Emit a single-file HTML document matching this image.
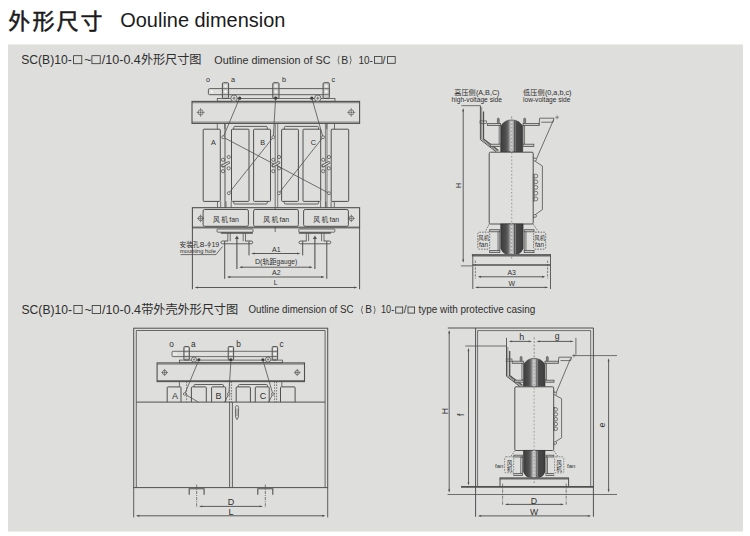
<!DOCTYPE html>
<html><head><meta charset="utf-8"><title>Outline dimension</title>
<style>
html,body{margin:0;padding:0;background:#fff;}
body{width:750px;height:536px;overflow:hidden;font-family:"Liberation Sans",sans-serif;}
svg{display:block;font-family:"Liberation Sans","Noto Sans CJK SC",sans-serif;}
svg text,svg use{fill:#2e2e2e;stroke:none;}
</style></head><body>
<svg width="750" height="536" viewBox="0 0 750 536">
<rect x="0" y="0" width="750" height="536" fill="#ffffff"/>
<rect x="8" y="44.5" width="735" height="487" fill="#dededc"/>
<g fill="none" stroke="#505050" stroke-width="0.9">
<text x="8.3" y="28.5" font-size="22" textLength="94.3" lengthAdjust="spacing" style="fill:#1a1a1a;stroke:#1a1a1a;stroke-width:0.5;font-family:'Liberation Sans','Noto Sans CJK SC',sans-serif">外形尺寸</text>
<text x="120.3" y="27.2" font-size="20" textLength="165" lengthAdjust="spacingAndGlyphs" style="fill:#1a1a1a">Oouline dimension</text>
<text x="21.2" y="64.2" font-size="12.2" textLength="50.6" lengthAdjust="spacingAndGlyphs">SC(B)10-</text>
<rect x="73.6" y="55.7" width="8.2" height="8" stroke-width="0.8" fill="none" stroke="#2e2e2e"/>
<text x="84.2" y="64.2" font-size="12.2">~</text>
<rect x="91.9" y="55.7" width="8.3" height="8" stroke-width="0.8" fill="none" stroke="#2e2e2e"/>
<text x="101.8" y="64.2" font-size="12.2" textLength="39" lengthAdjust="spacingAndGlyphs">/10-0.4</text>
<text x="140.9" y="64.1" font-size="12.2" textLength="60.6" lengthAdjust="spacing" style="font-family:'Liberation Sans','Noto Sans CJK SC',sans-serif">外形尺寸图</text>
<text x="214.3" y="63.7" font-size="10.7" textLength="116.2" lengthAdjust="spacingAndGlyphs">Outline dimension of SC</text>
<path d="M339.2 55.8 Q336.9 60.1 339.2 64.4" stroke-width="0.75" stroke="#4a4a4a"/>
<text x="341.2" y="63.7" font-size="10.5">B</text>
<path d="M350 55.8 Q352.3 60.1 350 64.4" stroke-width="0.75" stroke="#4a4a4a"/>
<text x="358.4" y="63.7" font-size="10.5" textLength="14.4" lengthAdjust="spacingAndGlyphs">10-</text>
<rect x="374.4" y="56.6" width="7.6" height="6.7" stroke-width="0.8" fill="none" stroke="#2e2e2e"/>
<text x="382.6" y="63.7" font-size="10.5">/</text>
<rect x="387.4" y="56.6" width="7.8" height="6.7" stroke-width="0.8" fill="none" stroke="#2e2e2e"/>
<text x="21.5" y="314" font-size="12.2" textLength="50.6" lengthAdjust="spacingAndGlyphs">SC(B)10-</text>
<rect x="73.9" y="305.5" width="8.2" height="8" stroke-width="0.8" fill="none" stroke="#2e2e2e"/>
<text x="84.5" y="314" font-size="12.2">~</text>
<rect x="92.2" y="305.5" width="8.3" height="8" stroke-width="0.8" fill="none" stroke="#2e2e2e"/>
<text x="102.1" y="314" font-size="12.2" textLength="39" lengthAdjust="spacingAndGlyphs">/10-0.4</text>
<text x="141.2" y="313.9" font-size="12.2" textLength="96.9" lengthAdjust="spacing" style="font-family:'Liberation Sans','Noto Sans CJK SC',sans-serif">带外壳外形尺寸图</text>
<text x="248.5" y="313.4" font-size="10" textLength="105" lengthAdjust="spacingAndGlyphs">Outline dimension of SC</text>
<path d="M362.6 305.9 Q360.3 309.95 362.6 314" stroke-width="0.75" stroke="#4a4a4a"/>
<text x="365.2" y="313.4" font-size="10">B</text>
<path d="M374 305.9 Q376.3 309.95 374 314" stroke-width="0.75" stroke="#4a4a4a"/>
<text x="381" y="313.4" font-size="10" textLength="13.2" lengthAdjust="spacingAndGlyphs">10-</text>
<rect x="395.7" y="307" width="7" height="6.1" stroke-width="0.8" fill="none" stroke="#2e2e2e"/>
<text x="403.7" y="313.4" font-size="10">/</text>
<rect x="408" y="307" width="6.6" height="6.1" stroke-width="0.8" fill="none" stroke="#2e2e2e"/>
<text x="418.4" y="313.4" font-size="10" textLength="116.9" lengthAdjust="spacingAndGlyphs">type with protective casing</text>
<text x="208.1" y="81.7" font-size="7.2" text-anchor="middle">o</text>
<text x="233" y="81.7" font-size="7.2" text-anchor="middle">a</text>
<text x="283.9" y="81.7" font-size="7.2" text-anchor="middle">b</text>
<text x="333.3" y="81.7" font-size="7.2" text-anchor="middle">c</text>
<rect x="208.4" y="88.6" width="120.8" height="6.1" rx="1.2"/>
<rect x="210.4" y="91" width="3" height="1.2" stroke-width="0" fill="#f4f4f4"/>
<rect x="211.3" y="90.1" width="1.2" height="3" stroke-width="0" fill="#f4f4f4"/>
<rect x="222.4" y="82.7" width="6.2" height="15.7" rx="1.1" stroke-width="1" fill="#cbcbc9"/>
<line x1="222.4" y1="88.6" x2="228.6" y2="88.6" stroke-width="0.7"/>
<line x1="222.4" y1="94.6" x2="228.6" y2="94.6" stroke-width="0.7"/>
<rect x="224" y="85.4" width="3" height="1.2" stroke-width="0" fill="#f6f6f6"/>
<rect x="224.9" y="84.5" width="1.2" height="3" stroke-width="0" fill="#f6f6f6"/>
<rect x="224" y="91" width="3" height="1.2" stroke-width="0" fill="#f6f6f6"/>
<rect x="224.9" y="90.1" width="1.2" height="3" stroke-width="0" fill="#f6f6f6"/>
<rect x="272.8" y="82.7" width="6.2" height="15.7" rx="1.1" stroke-width="1" fill="#cbcbc9"/>
<line x1="272.8" y1="88.6" x2="279" y2="88.6" stroke-width="0.7"/>
<line x1="272.8" y1="94.6" x2="279" y2="94.6" stroke-width="0.7"/>
<rect x="274.4" y="85.4" width="3" height="1.2" stroke-width="0" fill="#f6f6f6"/>
<rect x="275.3" y="84.5" width="1.2" height="3" stroke-width="0" fill="#f6f6f6"/>
<rect x="274.4" y="91" width="3" height="1.2" stroke-width="0" fill="#f6f6f6"/>
<rect x="275.3" y="90.1" width="1.2" height="3" stroke-width="0" fill="#f6f6f6"/>
<rect x="323.1" y="82.7" width="6.2" height="15.7" rx="1.1" stroke-width="1" fill="#cbcbc9"/>
<line x1="323.1" y1="88.6" x2="329.3" y2="88.6" stroke-width="0.7"/>
<line x1="323.1" y1="94.6" x2="329.3" y2="94.6" stroke-width="0.7"/>
<rect x="324.7" y="85.4" width="3" height="1.2" stroke-width="0" fill="#f6f6f6"/>
<rect x="325.6" y="84.5" width="1.2" height="3" stroke-width="0" fill="#f6f6f6"/>
<rect x="324.7" y="91" width="3" height="1.2" stroke-width="0" fill="#f6f6f6"/>
<rect x="325.6" y="90.1" width="1.2" height="3" stroke-width="0" fill="#f6f6f6"/>
<rect x="217.3" y="98.5" width="117.7" height="2.8" stroke-width="0.8"/>
<rect x="192" y="101.4" width="167.6" height="22" stroke-width="1.1"/>
<line x1="192" y1="102.7" x2="359.6" y2="102.7" stroke-width="0.7"/>
<line x1="192" y1="122.1" x2="359.6" y2="122.1" stroke-width="0.7"/>
<circle cx="200.6" cy="112.4" r="2.6" stroke-width="0.7" fill="none"/>
<line x1="196.6" y1="112.4" x2="204.6" y2="112.4" stroke-width="0.6"/>
<line x1="200.6" y1="108.1" x2="200.6" y2="116.7" stroke-width="0.6"/>
<circle cx="351.2" cy="112.4" r="2.6" stroke-width="0.7" fill="none"/>
<line x1="347.2" y1="112.4" x2="355.2" y2="112.4" stroke-width="0.6"/>
<line x1="351.2" y1="108.1" x2="351.2" y2="116.7" stroke-width="0.6"/>
<circle cx="234" cy="98.2" r="3.2" stroke-width="0.8" fill="#dededc"/>
<line x1="232.4" y1="98.2" x2="235.6" y2="98.2" stroke-width="0.7"/>
<line x1="234" y1="96.6" x2="234" y2="99.8" stroke-width="0.7"/>
<circle cx="239.7" cy="98.2" r="1.6" stroke-width="0" fill="#3a3a3a"/>
<circle cx="317.8" cy="98.2" r="3.2" stroke-width="0.8" fill="#dededc"/>
<line x1="316.2" y1="98.2" x2="319.4" y2="98.2" stroke-width="0.7"/>
<line x1="317.8" y1="96.6" x2="317.8" y2="99.8" stroke-width="0.7"/>
<circle cx="311.8" cy="98.2" r="1.6" stroke-width="0" fill="#3a3a3a"/>
<circle cx="275.7" cy="98.2" r="1.6" stroke-width="0" fill="#3a3a3a"/>
<line x1="217.3" y1="123.4" x2="217.3" y2="129.2" stroke-width="0.8"/>
<line x1="224.9" y1="123.4" x2="224.9" y2="129.2" stroke-width="0.8"/>
<line x1="326.8" y1="123.4" x2="326.8" y2="129.2" stroke-width="0.8"/>
<line x1="334.5" y1="123.4" x2="334.5" y2="129.2" stroke-width="0.8"/>
<line x1="217.5" y1="201.4" x2="217.5" y2="207.7" stroke-width="0.8"/>
<line x1="220.7" y1="201.4" x2="220.7" y2="207.7" stroke-width="0.8"/>
<line x1="226" y1="201.4" x2="226" y2="207.7" stroke-width="0.8"/>
<line x1="231.2" y1="201.4" x2="231.2" y2="207.7" stroke-width="0.8"/>
<line x1="334.3" y1="201.4" x2="334.3" y2="207.7" stroke-width="0.8"/>
<line x1="331.1" y1="201.4" x2="331.1" y2="207.7" stroke-width="0.8"/>
<line x1="325.8" y1="201.4" x2="325.8" y2="207.7" stroke-width="0.8"/>
<line x1="320.6" y1="201.4" x2="320.6" y2="207.7" stroke-width="0.8"/>
<rect x="203.2" y="129.2" width="17.1" height="72.2" rx="0.8" stroke-width="1"/>
<rect x="231.5" y="129.2" width="17.5" height="72.2" rx="0.8" stroke-width="1"/>
<rect x="253.6" y="129.2" width="16.9" height="72.2" rx="0.8" stroke-width="1"/>
<rect x="281.6" y="129.2" width="16.8" height="72.2" rx="0.8" stroke-width="1"/>
<rect x="303" y="129.2" width="17.7" height="72.2" rx="0.8" stroke-width="1"/>
<rect x="331.2" y="129.2" width="17.5" height="72.2" rx="0.8" stroke-width="1"/>
<path d="M233.7 129.2 V127.6 Q233.7 126.4 234.9 126.4 H266.1 Q267.3 126.4 267.3 127.6 V129.2"/>
<path d="M233.7 201.4 V202.8 Q233.7 204 234.9 204 H266.1 Q267.3 204 267.3 202.8 V201.4"/>
<path d="M284.3 129.2 V127.6 Q284.3 126.4 285.5 126.4 H317.3 Q318.5 126.4 318.5 127.6 V129.2"/>
<path d="M284.3 201.4 V202.8 Q284.3 204 285.5 204 H317.3 Q318.5 204 318.5 202.8 V201.4"/>
<line x1="225" y1="123.4" x2="225" y2="207.7" stroke-width="0.95"/>
<line x1="275.2" y1="123.4" x2="275.2" y2="232" stroke-width="0.8"/>
<line x1="277.7" y1="123.4" x2="277.7" y2="207.7" stroke-width="0.7"/>
<line x1="325.4" y1="123.4" x2="325.4" y2="207.7" stroke-width="0.7"/>
<line x1="327" y1="123.4" x2="327" y2="207.7" stroke-width="0.7"/>
<text x="213.3" y="145.2" font-size="7.2" text-anchor="middle">A</text>
<text x="262.6" y="145.2" font-size="7.2" text-anchor="middle">B</text>
<text x="313.3" y="145" font-size="7.2" text-anchor="middle">C</text>
<line x1="239.7" y1="98" x2="223.2" y2="137.2" stroke-width="0.8"/>
<line x1="275.6" y1="98" x2="273.3" y2="137.2" stroke-width="0.8"/>
<line x1="311.8" y1="98" x2="323" y2="137.2" stroke-width="0.8"/>
<line x1="223.2" y1="137.2" x2="329" y2="193.2" stroke-width="0.8"/>
<line x1="273.3" y1="137.2" x2="228.8" y2="193.2" stroke-width="0.8"/>
<line x1="323" y1="137.2" x2="278.9" y2="193.2" stroke-width="0.8"/>
<circle cx="223.2" cy="137.2" r="1.5" stroke-width="0.7" fill="#dededc"/>
<circle cx="273.3" cy="137.2" r="1.5" stroke-width="0.7" fill="#dededc"/>
<circle cx="323" cy="137.2" r="1.5" stroke-width="0.7" fill="#dededc"/>
<circle cx="228.8" cy="193.2" r="1.5" stroke-width="0.7" fill="#dededc"/>
<circle cx="278.9" cy="193.2" r="1.5" stroke-width="0.7" fill="#dededc"/>
<circle cx="329" cy="193.2" r="1.5" stroke-width="0.7" fill="#dededc"/>
<circle cx="223" cy="159.8" r="1.6" stroke-width="0.75"/>
<circle cx="223" cy="165.6" r="1.6" stroke-width="0.75"/>
<circle cx="223" cy="171.2" r="1.6" stroke-width="0.75"/>
<circle cx="228.7" cy="157" r="1.6" stroke-width="0.75"/>
<circle cx="228.7" cy="168.3" r="1.6" stroke-width="0.75"/>
<line x1="223" y1="165.6" x2="228.7" y2="162.5" stroke-width="2.6" stroke-linecap="round"/>
<line x1="223" y1="165.6" x2="228.7" y2="162.5" stroke-width="1.2" stroke="#dededc" stroke-linecap="round"/>
<circle cx="273.3" cy="159.8" r="1.6" stroke-width="0.75"/>
<circle cx="273.3" cy="165.6" r="1.6" stroke-width="0.75"/>
<circle cx="273.3" cy="171.2" r="1.6" stroke-width="0.75"/>
<circle cx="279" cy="157" r="1.6" stroke-width="0.75"/>
<circle cx="279" cy="168.3" r="1.6" stroke-width="0.75"/>
<line x1="273.3" y1="165.6" x2="279" y2="162.5" stroke-width="2.6" stroke-linecap="round"/>
<line x1="273.3" y1="165.6" x2="279" y2="162.5" stroke-width="1.2" stroke="#dededc" stroke-linecap="round"/>
<circle cx="323.2" cy="159.8" r="1.6" stroke-width="0.75"/>
<circle cx="323.2" cy="165.6" r="1.6" stroke-width="0.75"/>
<circle cx="323.2" cy="171.2" r="1.6" stroke-width="0.75"/>
<circle cx="328.9" cy="157" r="1.6" stroke-width="0.75"/>
<circle cx="328.9" cy="168.3" r="1.6" stroke-width="0.75"/>
<line x1="323.2" y1="165.6" x2="328.9" y2="162.5" stroke-width="2.6" stroke-linecap="round"/>
<line x1="323.2" y1="165.6" x2="328.9" y2="162.5" stroke-width="1.2" stroke="#dededc" stroke-linecap="round"/>
<rect x="192.4" y="207.7" width="167.2" height="20.1" stroke-width="1.1"/>
<line x1="192.4" y1="226.9" x2="359.6" y2="226.9" stroke-width="0.6"/>
<rect x="203.1" y="209.5" width="45.3" height="16.8" rx="1.6" stroke-width="1" fill="#dededc"/>
<text x="213.05" y="221.7" font-size="6.7" textLength="14.9" lengthAdjust="spacing" style="font-family:'Liberation Sans','Noto Sans CJK SC',sans-serif">风机</text>
<text x="229.35" y="221.6" font-size="6.8" textLength="9.6" lengthAdjust="spacingAndGlyphs">fan</text>
<rect x="253.6" y="209.5" width="44.8" height="16.8" rx="1.6" stroke-width="1" fill="#dededc"/>
<text x="263.3" y="221.7" font-size="6.7" textLength="14.9" lengthAdjust="spacing" style="font-family:'Liberation Sans','Noto Sans CJK SC',sans-serif">风机</text>
<text x="279.6" y="221.6" font-size="6.8" textLength="9.6" lengthAdjust="spacingAndGlyphs">fan</text>
<rect x="303.6" y="209.5" width="44.8" height="16.8" rx="1.6" stroke-width="1" fill="#dededc"/>
<text x="313.3" y="221.7" font-size="6.7" textLength="14.9" lengthAdjust="spacing" style="font-family:'Liberation Sans','Noto Sans CJK SC',sans-serif">风机</text>
<text x="329.6" y="221.6" font-size="6.8" textLength="9.6" lengthAdjust="spacingAndGlyphs">fan</text>
<circle cx="200.6" cy="218.4" r="2.3" stroke-width="0.7" fill="none"/>
<line x1="197.1" y1="218.4" x2="204.1" y2="218.4" stroke-width="0.6"/>
<line x1="200.6" y1="214.6" x2="200.6" y2="222.2" stroke-width="0.6"/>
<circle cx="351.3" cy="218.4" r="2.3" stroke-width="0.7" fill="none"/>
<line x1="347.8" y1="218.4" x2="354.8" y2="218.4" stroke-width="0.6"/>
<line x1="351.3" y1="214.6" x2="351.3" y2="222.2" stroke-width="0.6"/>
<rect x="217" y="229" width="36" height="3.2" rx="0.8" stroke-width="0.8"/>
<line x1="221.4" y1="232.9" x2="252.4" y2="232.9" stroke-width="1.5" stroke-linecap="round"/>
<line x1="227.8" y1="233.2" x2="227.8" y2="241.2" stroke-width="0.8"/>
<line x1="230.2" y1="233.2" x2="230.2" y2="241.2" stroke-width="0.8"/>
<line x1="243.2" y1="233.2" x2="243.2" y2="241.2" stroke-width="0.8"/>
<line x1="245.5" y1="233.2" x2="245.5" y2="241.2" stroke-width="0.8"/>
<path d="M228 241 H222.4 A1.4 1.4 0 0 0 222.4 243.8 H251.3 A1.4 1.4 0 0 0 251.3 241 H245.3"/>
<rect x="298.8" y="229" width="36" height="3.2" rx="0.8" stroke-width="0.8"/>
<line x1="299.4" y1="232.9" x2="330.4" y2="232.9" stroke-width="1.5" stroke-linecap="round"/>
<line x1="324" y1="233.2" x2="324" y2="241.2" stroke-width="0.8"/>
<line x1="321.6" y1="233.2" x2="321.6" y2="241.2" stroke-width="0.8"/>
<line x1="308.6" y1="233.2" x2="308.6" y2="241.2" stroke-width="0.8"/>
<line x1="306.3" y1="233.2" x2="306.3" y2="241.2" stroke-width="0.8"/>
<path d="M306.5 241 H300.5 A1.4 1.4 0 0 0 300.5 243.8 H329.4 A1.4 1.4 0 0 0 329.4 241 H323.8"/>
<line x1="192.4" y1="227.8" x2="192.4" y2="289.2" stroke-width="1"/>
<line x1="359.6" y1="227.8" x2="359.6" y2="289.2" stroke-width="1"/>
<line x1="224.7" y1="241.2" x2="224.7" y2="278.8" stroke-width="1"/>
<line x1="326.8" y1="241.2" x2="326.8" y2="278.8" stroke-width="1"/>
<line x1="249" y1="241.2" x2="249" y2="255.4" stroke-width="1"/>
<line x1="302.7" y1="241.2" x2="302.7" y2="255.4" stroke-width="1"/>
<line x1="236.9" y1="238.6" x2="236.9" y2="268.9" stroke-width="1.1"/>
<line x1="314.9" y1="238.6" x2="314.9" y2="268.9" stroke-width="1.1"/>
<path d="M236.9 235.6 L234.9 239 L238.9 239 Z" fill="#505050" stroke="none"/>
<path d="M314.9 235.6 L312.9 239 L316.9 239 Z" fill="#505050" stroke="none"/>
<line x1="252.7" y1="253.5" x2="299" y2="253.5" stroke-width="1" stroke="#5a5a5a"/>
<path d="M251.2 253.5 L254.6 252.55 L254.6 254.45 Z" fill="#505050" stroke="none"/>
<path d="M300.5 253.5 L297.1 252.55 L297.1 254.45 Z" fill="#505050" stroke="none"/>
<line x1="240.6" y1="267.2" x2="311.2" y2="267.2" stroke-width="1" stroke="#5a5a5a"/>
<path d="M239.1 267.2 L242.5 266.25 L242.5 268.15 Z" fill="#505050" stroke="none"/>
<path d="M312.7 267.2 L309.3 266.25 L309.3 268.15 Z" fill="#505050" stroke="none"/>
<line x1="228.4" y1="277" x2="323.1" y2="277" stroke-width="1" stroke="#5a5a5a"/>
<path d="M226.9 277 L230.3 276.05 L230.3 277.95 Z" fill="#505050" stroke="none"/>
<path d="M324.6 277 L321.2 276.05 L321.2 277.95 Z" fill="#505050" stroke="none"/>
<line x1="196.1" y1="287.5" x2="355.9" y2="287.5" stroke-width="1" stroke="#5a5a5a"/>
<path d="M194.6 287.5 L198 286.55 L198 288.45 Z" fill="#505050" stroke="none"/>
<path d="M357.4 287.5 L354 286.55 L354 288.45 Z" fill="#505050" stroke="none"/>
<text x="276.3" y="252.4" font-size="7" text-anchor="middle">A1</text>
<text x="254.9" y="264" font-size="7.2">D(</text>
<text x="262.4" y="263.9" font-size="7" textLength="14" lengthAdjust="spacing" style="font-family:'Liberation Sans','Noto Sans CJK SC',sans-serif">轨距</text>
<text x="276.6" y="264" font-size="7.2" textLength="20.6" lengthAdjust="spacingAndGlyphs">gauge)</text>
<text x="276.3" y="274.8" font-size="7" text-anchor="middle">A2</text>
<text x="275.8" y="285.4" font-size="7" text-anchor="middle">L</text>
<text x="179.5" y="246.6" font-size="6.6" textLength="19.9" lengthAdjust="spacing" style="font-family:'Liberation Sans','Noto Sans CJK SC',sans-serif">安装孔</text>
<text x="199.8" y="246.6" font-size="7" textLength="7.4" lengthAdjust="spacingAndGlyphs">8-</text>
<circle cx="209.2" cy="244.3" r="1.45" stroke-width="0.7"/>
<line x1="209.2" y1="241.4" x2="209.2" y2="247.6" stroke-width="0.7"/>
<text x="211.4" y="246.6" font-size="7" textLength="7.9" lengthAdjust="spacingAndGlyphs">19</text>
<text x="180" y="253" font-size="5.7" textLength="35.8" lengthAdjust="spacingAndGlyphs">mounting hole</text>
<path d="M180.6 254.6 L216 254.6 L222.6 246.4" stroke-width="0.8"/>
<defs><linearGradient id="cg" x1="0" x2="1" y1="0" y2="0"><stop offset="0" stop-color="#3c3c3c"/><stop offset="0.1" stop-color="#444"/><stop offset="0.24" stop-color="#505050"/><stop offset="0.34" stop-color="#6a6a6a"/><stop offset="0.41" stop-color="#a4a4a4"/><stop offset="0.47" stop-color="#cbcbcb"/><stop offset="0.53" stop-color="#c2c2c2"/><stop offset="0.59" stop-color="#9a9a9a"/><stop offset="0.62" stop-color="#4c4c4c"/><stop offset="0.655" stop-color="#858585"/><stop offset="0.7" stop-color="#484848"/><stop offset="0.9" stop-color="#424242"/><stop offset="1" stop-color="#3a3a3a"/></linearGradient></defs>
<text x="454.2" y="95.2" font-size="7.1" textLength="21.5" lengthAdjust="spacing" style="font-family:'Liberation Sans','Noto Sans CJK SC',sans-serif">高压侧</text>
<text x="475.9" y="95" font-size="7.2" textLength="23.6" lengthAdjust="spacingAndGlyphs">(A,B,C)</text>
<text x="451.5" y="101.6" font-size="6.7" textLength="50.4" lengthAdjust="spacingAndGlyphs">high-voltage side</text>
<text x="522.9" y="95.2" font-size="7.1" textLength="21.7" lengthAdjust="spacing" style="font-family:'Liberation Sans','Noto Sans CJK SC',sans-serif">低压侧</text>
<text x="544.9" y="95" font-size="7.2" textLength="26.6" lengthAdjust="spacingAndGlyphs">(0,a,b,c)</text>
<text x="523" y="101.6" font-size="6.7" textLength="47.4" lengthAdjust="spacingAndGlyphs">low-voltage side</text>
<line x1="461.4" y1="105.7" x2="480.4" y2="105.7" stroke-width="0.8"/>
<line x1="463.2" y1="109.5" x2="463.2" y2="261.3"/>
<path d="M463.2 108 L462.25 111.4 L464.15 111.4 Z" fill="#505050" stroke="none"/>
<path d="M463.2 262.8 L462.25 259.4 L464.15 259.4 Z" fill="#505050" stroke="none"/>
<line x1="461" y1="265.9" x2="472.4" y2="265.9" stroke-width="0.8"/>
<text x="461.2" y="185.4" font-size="7" text-anchor="middle" transform="rotate(-90 461.2 185.4)">H</text>
<path d="M480.4 105.7 L480.4 139.6 L496.2 151.8" stroke-width="1"/>
<path d="M481.7 107 L481.7 139.2 L497.2 151.2" stroke-width="0.6"/>
<path d="M483.5 111.4 L483.5 139 L498.4 150.6" stroke-width="1.3"/>
<rect x="480" y="120.9" width="6.4" height="2.5" stroke-width="0.7"/>
<path d="M500.7 151.9 V126.4 A12.6 12.6 0 0 1 522.7 126.4 V151.9 Z" stroke-width="0.6" fill="url(#cg)" stroke="#333"/>
<rect x="487.6" y="123.5" width="13" height="2.1" stroke-width="0.8" fill="#c8c8c8"/>
<rect x="499.1" y="125.6" width="1.6" height="18.6" stroke-width="0.7" fill="#c8c8c8"/>
<rect x="490.2" y="144.2" width="10.5" height="2.2" stroke-width="0.8" fill="#c8c8c8"/>
<rect x="497.4" y="118.2" width="1.8" height="5.3" rx="0.7" stroke-width="0.7" fill="#8a8a8a"/>
<rect x="523" y="123.5" width="16.2" height="2.1" stroke-width="0.8" fill="#c8c8c8"/>
<rect x="523" y="125.6" width="1.7" height="18.6" stroke-width="0.7" fill="#c8c8c8"/>
<rect x="523" y="144.2" width="10.8" height="2.2" stroke-width="0.8" fill="#c8c8c8"/>
<rect x="523.8" y="118.2" width="1.8" height="5.3" rx="0.7" stroke-width="0.7" fill="#8a8a8a"/>
<path d="M539.2 124.6 L539.6 118.2 L554 118.2 L553 122.2 L541.2 122.2" stroke-width="0.8"/>
<line x1="555.2" y1="117.3" x2="559" y2="117.3" stroke-width="0.6"/>
<line x1="557.1" y1="115.4" x2="557.1" y2="119.2" stroke-width="0.6"/>
<line x1="553.7" y1="119.6" x2="536.4" y2="159" stroke-width="0.8"/>
<rect x="489.2" y="152.2" width="44" height="71.8" rx="1.2" stroke-width="1" fill="#dfdfdd"/>
<path d="M533.2 156.6 L535.6 161.6 L542.4 166 L542.4 209.6 L535.6 214.4 L533.2 218" stroke-width="0.8"/>
<circle cx="535" cy="159.6" r="1.5" stroke-width="0.7" fill="#dededc"/>
<circle cx="535" cy="215.9" r="1.5" stroke-width="0.7" fill="#dededc"/>
<rect x="533.2" y="174.2" width="1.3" height="27" stroke-width="0.6"/>
<circle cx="535.9" cy="176" r="1.9" stroke-width="0.7" fill="#dededc"/>
<circle cx="535.9" cy="181.8" r="1.9" stroke-width="0.7" fill="#dededc"/>
<circle cx="535.9" cy="187.4" r="1.9" stroke-width="0.7" fill="#dededc"/>
<circle cx="535.9" cy="193.2" r="1.9" stroke-width="0.7" fill="#dededc"/>
<circle cx="535.9" cy="199" r="1.9" stroke-width="0.7" fill="#dededc"/>
<path d="M500.7 223.9 V248.6 Q502.6 253.4 507.4 254.9 H516.4 Q521.2 253.4 523.1 248.6 V223.9 Z" stroke-width="0.6" fill="url(#cg)" stroke="#333"/>
<rect x="489.7" y="229.7" width="10.1" height="2.1" stroke-width="0.8" fill="#c8c8c8"/>
<rect x="498" y="231.8" width="1.8" height="18.7" stroke-width="0.7" fill="#c8c8c8"/>
<rect x="489.7" y="250.5" width="10.1" height="2.1" stroke-width="0.8" fill="#c8c8c8"/>
<rect x="524.2" y="229.7" width="9.8" height="2.1" stroke-width="0.8" fill="#c8c8c8"/>
<rect x="524.2" y="231.8" width="1.8" height="18.7" stroke-width="0.7" fill="#c8c8c8"/>
<rect x="524.2" y="250.5" width="9.8" height="2.1" stroke-width="0.8" fill="#c8c8c8"/>
<rect x="477.8" y="232.2" width="11.9" height="17" rx="1.6" stroke-width="0.8" stroke="#555" stroke-dasharray="1.6 1.1"/>
<rect x="533.6" y="232.2" width="12.1" height="17" rx="1.6" stroke-width="0.8" stroke="#555" stroke-dasharray="1.6 1.1"/>
<line x1="489.2" y1="224.2" x2="485.2" y2="231.6" stroke-width="0.7" stroke-dasharray="1.6 1.1"/>
<line x1="533.2" y1="224.2" x2="538.4" y2="231.6" stroke-width="0.7" stroke-dasharray="1.6 1.1"/>
<text x="478.2" y="240" font-size="5.4" textLength="11" lengthAdjust="spacing" style="font-family:'Liberation Sans','Noto Sans CJK SC',sans-serif">风机</text>
<text x="479" y="246.9" font-size="6.5" textLength="9" lengthAdjust="spacingAndGlyphs">fan</text>
<text x="534.2" y="240" font-size="5.4" textLength="11" lengthAdjust="spacing" style="font-family:'Liberation Sans','Noto Sans CJK SC',sans-serif">风机</text>
<text x="535" y="246.9" font-size="6.5" textLength="9" lengthAdjust="spacingAndGlyphs">fan</text>
<line x1="511.7" y1="116.4" x2="511.7" y2="258.6" stroke-width="0.7" stroke="#6a6a6a" stroke-dasharray="2 1.6"/>
<line x1="511.7" y1="121" x2="511.7" y2="254" stroke-width="0.7" stroke="#e8e8e8" stroke-dasharray="2 1.6"/>
<line x1="471.9" y1="255.3" x2="551" y2="255.3" stroke-width="2.4" stroke="#666"/>
<line x1="472.4" y1="265.1" x2="550.5" y2="265.1" stroke-width="1.5"/>
<line x1="472.8" y1="254.2" x2="472.8" y2="289"/>
<line x1="550.5" y1="254.2" x2="550.5" y2="289"/>
<line x1="475.4" y1="260.6" x2="475.4" y2="278.4" stroke-width="0.7" stroke-dasharray="2.2 1.2"/>
<line x1="547.6" y1="260.6" x2="547.6" y2="278.4" stroke-width="0.7" stroke-dasharray="2.2 1.2"/>
<line x1="479.2" y1="276.8" x2="543.9" y2="276.8" stroke-width="1" stroke="#5a5a5a"/>
<path d="M477.7 276.8 L481.1 275.85 L481.1 277.75 Z" fill="#505050" stroke="none"/>
<path d="M545.4 276.8 L542 275.85 L542 277.75 Z" fill="#505050" stroke="none"/>
<line x1="476.5" y1="287.4" x2="546.8" y2="287.4" stroke-width="1" stroke="#5a5a5a"/>
<path d="M475 287.4 L478.4 286.45 L478.4 288.35 Z" fill="#505050" stroke="none"/>
<path d="M548.3 287.4 L544.9 286.45 L544.9 288.35 Z" fill="#505050" stroke="none"/>
<text x="511.7" y="274.8" font-size="6.9" text-anchor="middle">A3</text>
<text x="511.7" y="285.6" font-size="6.9" text-anchor="middle">W</text>
<rect x="133.7" y="328.2" width="194" height="159.4" stroke-width="1"/>
<path d="M136.3 487.6 L136.3 330.5 L325.1 330.5 L325.1 487.6" stroke-width="0.85"/>
<line x1="133.7" y1="487.6" x2="133.7" y2="517.4"/>
<line x1="327.7" y1="487.6" x2="327.7" y2="517.4"/>
<line x1="136.3" y1="402.1" x2="325.1" y2="402.1" stroke-width="1"/>
<line x1="229.6" y1="402.1" x2="229.6" y2="487.6"/>
<line x1="232.4" y1="402.1" x2="232.4" y2="487.6"/>
<text x="171.6" y="346.5" font-size="8.3" text-anchor="middle">o</text>
<text x="193.2" y="346.5" font-size="8.3" text-anchor="middle">a</text>
<text x="238.5" y="346.5" font-size="8.3" text-anchor="middle">b</text>
<text x="281.7" y="346.5" font-size="8.3" text-anchor="middle">c</text>
<rect x="172" y="351.3" width="105.4" height="5.3" rx="1.1" stroke-width="0.8"/>
<rect x="173.2" y="352.8" width="1.2" height="2.4" stroke-width="0" fill="#f4f4f4"/>
<rect x="175.4" y="352.8" width="1.2" height="2.4" stroke-width="0" fill="#f4f4f4"/>
<rect x="183.9" y="346.6" width="5.4" height="13.4" rx="0.8" stroke-width="1" fill="#cbcbc9"/>
<line x1="183.9" y1="351.4" x2="189.3" y2="351.4" stroke-width="0.7"/>
<line x1="183.9" y1="356.5" x2="189.3" y2="356.5" stroke-width="0.7"/>
<rect x="185.3" y="348.1" width="2.6" height="1.8" stroke-width="0" fill="#f6f6f6"/>
<rect x="185.3" y="353.1" width="2.6" height="1.8" stroke-width="0" fill="#f6f6f6"/>
<rect x="228.2" y="346.6" width="5.4" height="13.4" rx="0.8" stroke-width="1" fill="#cbcbc9"/>
<line x1="228.2" y1="351.4" x2="233.6" y2="351.4" stroke-width="0.7"/>
<line x1="228.2" y1="356.5" x2="233.6" y2="356.5" stroke-width="0.7"/>
<rect x="229.6" y="348.1" width="2.6" height="1.8" stroke-width="0" fill="#f6f6f6"/>
<rect x="229.6" y="353.1" width="2.6" height="1.8" stroke-width="0" fill="#f6f6f6"/>
<rect x="272.2" y="346.6" width="5.4" height="13.4" rx="0.8" stroke-width="1" fill="#cbcbc9"/>
<line x1="272.2" y1="351.4" x2="277.6" y2="351.4" stroke-width="0.7"/>
<line x1="272.2" y1="356.5" x2="277.6" y2="356.5" stroke-width="0.7"/>
<rect x="273.6" y="348.1" width="2.6" height="1.8" stroke-width="0" fill="#f6f6f6"/>
<rect x="273.6" y="353.1" width="2.6" height="1.8" stroke-width="0" fill="#f6f6f6"/>
<rect x="179.5" y="360.1" width="103" height="2.6" stroke-width="0.8"/>
<rect x="157.1" y="362.9" width="147.4" height="18.7" stroke-width="1.1"/>
<line x1="157.1" y1="364.1" x2="304.5" y2="364.1" stroke-width="0.7"/>
<line x1="157.1" y1="380.5" x2="304.5" y2="380.5" stroke-width="0.7"/>
<circle cx="164.6" cy="372.5" r="2.2" stroke-width="0.7" fill="none"/>
<line x1="161.3" y1="372.5" x2="167.9" y2="372.5" stroke-width="0.6"/>
<line x1="164.6" y1="368.9" x2="164.6" y2="376.1" stroke-width="0.6"/>
<circle cx="297.2" cy="372.5" r="2.2" stroke-width="0.7" fill="none"/>
<line x1="293.9" y1="372.5" x2="300.5" y2="372.5" stroke-width="0.6"/>
<line x1="297.2" y1="368.9" x2="297.2" y2="376.1" stroke-width="0.6"/>
<circle cx="194" cy="359.6" r="2.6" stroke-width="0.8" fill="#dededc"/>
<line x1="192.8" y1="359.6" x2="195.2" y2="359.6" stroke-width="0.6"/>
<line x1="194" y1="358.4" x2="194" y2="360.8" stroke-width="0.6"/>
<circle cx="198.9" cy="359.8" r="1.5" stroke-width="0" fill="#3a3a3a"/>
<circle cx="268" cy="359.6" r="2.6" stroke-width="0.8" fill="#dededc"/>
<line x1="266.8" y1="359.6" x2="269.2" y2="359.6" stroke-width="0.6"/>
<line x1="268" y1="358.4" x2="268" y2="360.8" stroke-width="0.6"/>
<circle cx="262.8" cy="359.8" r="1.5" stroke-width="0" fill="#3a3a3a"/>
<circle cx="230.8" cy="359.8" r="1.5" stroke-width="0" fill="#3a3a3a"/>
<line x1="179.4" y1="381.6" x2="179.4" y2="386.9" stroke-width="0.8"/>
<line x1="281.8" y1="381.6" x2="281.8" y2="386.9" stroke-width="0.8"/>
<path d="M167.2 402.1 V387.7 Q167.2 386.9 168 386.9 H180.2 Q181 386.9 181 387.7 V402.1" stroke-width="1"/>
<path d="M191.4 402.1 V387.7 Q191.4 386.9 192.2 386.9 H205.5 Q206.3 386.9 206.3 387.7 V402.1" stroke-width="1"/>
<path d="M211.6 402.1 V387.7 Q211.6 386.9 212.4 386.9 H224.9 Q225.7 386.9 225.7 387.7 V402.1" stroke-width="1"/>
<path d="M236.2 402.1 V387.7 Q236.2 386.9 237 386.9 H249.6 Q250.4 386.9 250.4 387.7 V402.1" stroke-width="1"/>
<path d="M255.3 402.1 V387.7 Q255.3 386.9 256.1 386.9 H268.4 Q269.2 386.9 269.2 387.7 V402.1" stroke-width="1"/>
<path d="M280.5 402.1 V387.7 Q280.5 386.9 281.3 386.9 H294.3 Q295.1 386.9 295.1 387.7 V402.1" stroke-width="1"/>
<path d="M194 386.9 V385.6 Q194 384.5 195.1 384.5 H222.4 Q223.5 384.5 223.5 385.6 V386.9"/>
<path d="M238.4 386.9 V385.6 Q238.4 384.5 239.5 384.5 H266.4 Q267.5 384.5 267.5 385.6 V386.9"/>
<line x1="186.6" y1="381.6" x2="186.6" y2="402.1" stroke-width="0.7" stroke-dasharray="1.6 1.2"/>
<line x1="229.7" y1="381.6" x2="229.7" y2="402.1" stroke-width="0.7" stroke-dasharray="1.6 1.2"/>
<line x1="231.6" y1="381.6" x2="231.6" y2="402.1" stroke-width="0.7" stroke-dasharray="1.6 1.2"/>
<line x1="274.6" y1="381.6" x2="274.6" y2="402.1" stroke-width="0.7" stroke-dasharray="1.6 1.2"/>
<line x1="276.6" y1="381.6" x2="276.6" y2="402.1" stroke-width="0.7" stroke-dasharray="1.6 1.2"/>
<text x="174.9" y="398.6" font-size="9" text-anchor="middle">A</text>
<text x="218.4" y="398.6" font-size="9" text-anchor="middle">B</text>
<text x="263" y="398.6" font-size="9" text-anchor="middle">C</text>
<line x1="198.9" y1="359.8" x2="184.7" y2="394" stroke-width="0.8"/>
<line x1="231" y1="359.8" x2="228.8" y2="394" stroke-width="0.8"/>
<line x1="262.8" y1="359.8" x2="272.8" y2="394" stroke-width="0.8"/>
<line x1="184.7" y1="394" x2="198.4" y2="402.1" stroke-width="0.8"/>
<line x1="228.8" y1="394" x2="224.6" y2="402.1" stroke-width="0.8"/>
<line x1="272.8" y1="394" x2="268.6" y2="402.1" stroke-width="0.8"/>
<circle cx="184.7" cy="394" r="1.3" stroke-width="0.7" fill="#dededc"/>
<circle cx="228.8" cy="394" r="1.3" stroke-width="0.7" fill="#dededc"/>
<circle cx="272.8" cy="394" r="1.3" stroke-width="0.7" fill="#dededc"/>
<path d="M237.0 405.6 C238.6 405.6 238.8 407.4 238.6 408.6 L238.4 417.0 L237.0 419.6 L235.6 417.0 L235.4 408.6 C235.2 407.4 235.4 405.6 237.0 405.6 Z" stroke-width="0.8"/>
<line x1="237" y1="408.4" x2="237" y2="416" stroke-width="0.6"/>
<path d="M189.2 494.8 L189.2 488.8 L204.1 488.8 L204.1 494.8" stroke-width="1.1"/>
<line x1="196.65" y1="484.6" x2="196.65" y2="507.6" stroke-width="0.7" stroke-dasharray="3.2 1 1 1"/>
<path d="M257.8 494.8 L257.8 488.8 L272.8 488.8 L272.8 494.8" stroke-width="1.1"/>
<line x1="265.3" y1="484.6" x2="265.3" y2="507.6" stroke-width="0.7" stroke-dasharray="3.2 1 1 1"/>
<line x1="200.4" y1="506.4" x2="261.5" y2="506.4" stroke-width="1" stroke="#5a5a5a"/>
<path d="M198.9 506.4 L202.3 505.45 L202.3 507.35 Z" fill="#505050" stroke="none"/>
<path d="M263 506.4 L259.6 505.45 L259.6 507.35 Z" fill="#505050" stroke="none"/>
<line x1="137.4" y1="515.8" x2="324" y2="515.8" stroke-width="1" stroke="#5a5a5a"/>
<path d="M135.9 515.8 L139.3 514.85 L139.3 516.75 Z" fill="#505050" stroke="none"/>
<path d="M325.5 515.8 L322.1 514.85 L322.1 516.75 Z" fill="#505050" stroke="none"/>
<text x="231" y="505.3" font-size="9" text-anchor="middle">D</text>
<text x="231" y="514.6" font-size="9" text-anchor="middle">L</text>
<line x1="447.8" y1="328" x2="593.4" y2="328" stroke-width="1"/>
<line x1="475.6" y1="328" x2="475.6" y2="516.8" stroke-width="1"/>
<line x1="593.4" y1="328" x2="593.4" y2="516.8" stroke-width="1"/>
<path d="M477.6 487 L477.6 330.6 L590.7 330.6 L590.7 487" stroke-width="0.8"/>
<line x1="461" y1="486.8" x2="593.8" y2="486.8" stroke-width="1.7"/>
<line x1="449.2" y1="331.5" x2="449.2" y2="491.2"/>
<path d="M449.2 330 L448.25 333.4 L450.15 333.4 Z" fill="#505050" stroke="none"/>
<path d="M449.2 492.7 L448.25 489.3 L450.15 489.3 Z" fill="#505050" stroke="none"/>
<line x1="447.6" y1="494.5" x2="617" y2="494.5" stroke-width="0.8"/>
<text x="447.8" y="411.1" font-size="8.6" text-anchor="middle" transform="rotate(-90 447.8 411.1)">H</text>
<line x1="465.2" y1="346" x2="506.4" y2="346" stroke-width="0.8"/>
<line x1="468.5" y1="349.3" x2="468.5" y2="484.1"/>
<path d="M468.5 347.8 L467.55 351.2 L469.45 351.2 Z" fill="#505050" stroke="none"/>
<path d="M468.5 485.6 L467.55 482.2 L469.45 482.2 Z" fill="#505050" stroke="none"/>
<text x="464.5" y="414.7" font-size="8.8" text-anchor="middle" transform="rotate(-90 464.5 414.7)">f</text>
<line x1="573.6" y1="355.6" x2="617" y2="355.6" stroke-width="0.8"/>
<line x1="608.6" y1="359.7" x2="608.6" y2="491.1"/>
<path d="M608.6 358.2 L607.65 361.6 L609.55 361.6 Z" fill="#505050" stroke="none"/>
<path d="M608.6 492.6 L607.65 489.2 L609.55 489.2 Z" fill="#505050" stroke="none"/>
<text x="604.7" y="425" font-size="8.8" text-anchor="middle" transform="rotate(-90 604.7 425)">e</text>
<line x1="506.5" y1="337.8" x2="506.5" y2="376.2"/>
<line x1="575.9" y1="337.8" x2="575.9" y2="354.6" stroke-width="0.8"/>
<line x1="510.2" y1="341.4" x2="530.5" y2="341.4" stroke-width="1" stroke="#5a5a5a"/>
<path d="M508.7 341.4 L512.1 340.45 L512.1 342.35 Z" fill="#505050" stroke="none"/>
<path d="M532 341.4 L528.6 340.45 L528.6 342.35 Z" fill="#505050" stroke="none"/>
<line x1="537.9" y1="341.4" x2="572.2" y2="341.4" stroke-width="1" stroke="#5a5a5a"/>
<path d="M536.4 341.4 L539.8 340.45 L539.8 342.35 Z" fill="#505050" stroke="none"/>
<path d="M573.7 341.4 L570.3 340.45 L570.3 342.35 Z" fill="#505050" stroke="none"/>
<text x="521.7" y="339.6" font-size="9" text-anchor="middle">h</text>
<text x="557.1" y="339" font-size="8.6" text-anchor="middle">g</text>
<path d="M506.5 346 L506.5 376.2 L519.8 386.4" stroke-width="1"/>
<path d="M507.8 347 L507.8 375.8 L520.8 385.8" stroke-width="0.6"/>
<path d="M509.7 351 L509.7 375.6 L522.6 385.6" stroke-width="1.3"/>
<rect x="506.2" y="359" width="5.8" height="2.2" stroke-width="0.7"/>
<path d="M523.5 386.6 V364.6 A12.4 12.4 0 0 1 545.0 364.6 V386.6 Z" stroke-width="0.6" fill="url(#cg)" stroke="#333"/>
<rect x="512.2" y="361.2" width="11.2" height="2.1" stroke-width="0.8" fill="#c8c8c8"/>
<rect x="521.9" y="363.3" width="1.6" height="16.9" stroke-width="0.7" fill="#c8c8c8"/>
<rect x="514.6" y="380.2" width="8.9" height="2" stroke-width="0.8" fill="#c8c8c8"/>
<rect x="520.2" y="356.6" width="1.8" height="4.6" rx="0.7" stroke-width="0.7" fill="#8a8a8a"/>
<rect x="545" y="361.2" width="13.4" height="2.1" stroke-width="0.8" fill="#c8c8c8"/>
<rect x="545" y="363.3" width="1.6" height="16.9" stroke-width="0.7" fill="#c8c8c8"/>
<rect x="545" y="380.2" width="9" height="2" stroke-width="0.8" fill="#c8c8c8"/>
<rect x="546.4" y="356.6" width="1.8" height="4.6" rx="0.7" stroke-width="0.7" fill="#8a8a8a"/>
<path d="M558.4 362.4 L558.8 357.2 L571.6 357.2 L570.6 360.6 L560.4 360.6" stroke-width="0.8"/>
<line x1="572.2" y1="355.6" x2="575.6" y2="355.6" stroke-width="0.6"/>
<line x1="573.9" y1="353.8" x2="573.9" y2="357.4" stroke-width="0.6"/>
<line x1="570.6" y1="358.4" x2="555.8" y2="393.6" stroke-width="0.8"/>
<rect x="514.8" y="386.8" width="38.9" height="63.7" rx="1.2" stroke-width="1" fill="#dfdfdd"/>
<path d="M553.7 390.6 L555.6 395.4 L561.6 398.6 L561.6 437.8 L555.6 441.6 L553.7 445.4" stroke-width="0.8"/>
<circle cx="555.2" cy="393.6" r="1.4" stroke-width="0.7" fill="#dededc"/>
<circle cx="555.2" cy="443" r="1.4" stroke-width="0.7" fill="#dededc"/>
<rect x="553.7" y="407.6" width="1.2" height="23" stroke-width="0.6"/>
<circle cx="555.9" cy="409.4" r="1.7" stroke-width="0.7" fill="#dededc"/>
<circle cx="555.9" cy="414.3" r="1.7" stroke-width="0.7" fill="#dededc"/>
<circle cx="555.9" cy="419.2" r="1.7" stroke-width="0.7" fill="#dededc"/>
<circle cx="555.9" cy="424" r="1.7" stroke-width="0.7" fill="#dededc"/>
<circle cx="555.9" cy="428.8" r="1.7" stroke-width="0.7" fill="#dededc"/>
<path d="M523.5 450.4 V472.0 Q525.2 476.4 529.8 477.9 H538.8 Q543.4 476.4 545.0 472.0 V450.4 Z" stroke-width="0.6" fill="url(#cg)" stroke="#333"/>
<rect x="513.8" y="455.2" width="8.6" height="1.8" stroke-width="0.8" fill="#c8c8c8"/>
<rect x="520.8" y="457" width="1.6" height="16.6" stroke-width="0.7" fill="#c8c8c8"/>
<rect x="513.8" y="473.6" width="8.6" height="1.8" stroke-width="0.8" fill="#c8c8c8"/>
<rect x="546" y="455.2" width="7.8" height="1.8" stroke-width="0.8" fill="#c8c8c8"/>
<rect x="546" y="457" width="1.6" height="16.6" stroke-width="0.7" fill="#c8c8c8"/>
<rect x="546" y="473.6" width="7.8" height="1.8" stroke-width="0.8" fill="#c8c8c8"/>
<rect x="504.6" y="456.8" width="9.1" height="16" rx="1.4" stroke-width="0.7" stroke="#666" stroke-dasharray="1.6 1.1"/>
<rect x="554.6" y="456.8" width="9.2" height="16" rx="1.4" stroke-width="0.7" stroke="#666" stroke-dasharray="1.6 1.1"/>
<line x1="514.8" y1="450.6" x2="510.8" y2="456.6" stroke-width="0.7" stroke-dasharray="1.6 1.1"/>
<line x1="553.7" y1="450.6" x2="558" y2="456.6" stroke-width="0.7" stroke-dasharray="1.6 1.1"/>
<text x="506.7" y="464.8" font-size="5.7" style="font-family:'Liberation Sans','Noto Sans CJK SC',sans-serif">风</text>
<text x="506.7" y="471.3" font-size="5.7" style="font-family:'Liberation Sans','Noto Sans CJK SC',sans-serif">机</text>
<text x="556.2" y="464.8" font-size="5.7" style="font-family:'Liberation Sans','Noto Sans CJK SC',sans-serif">风</text>
<text x="556.2" y="471.3" font-size="5.7" style="font-family:'Liberation Sans','Noto Sans CJK SC',sans-serif">机</text>
<text x="495" y="468.4" font-size="6" textLength="8.4" lengthAdjust="spacingAndGlyphs">fan</text>
<text x="567" y="468.4" font-size="6" textLength="8.4" lengthAdjust="spacingAndGlyphs">fan</text>
<line x1="534.2" y1="337.4" x2="534.2" y2="483" stroke-width="0.7" stroke="#6a6a6a" stroke-dasharray="2 1.6"/>
<line x1="534.2" y1="359.6" x2="534.2" y2="477" stroke-width="0.7" stroke="#e8e8e8" stroke-dasharray="2 1.6"/>
<line x1="499.5" y1="478.4" x2="569" y2="478.4" stroke-width="2.4" stroke="#666"/>
<line x1="500" y1="478.4" x2="500" y2="486.6" stroke-width="1"/>
<line x1="568.6" y1="478.4" x2="568.6" y2="486.6" stroke-width="1"/>
<line x1="502.6" y1="483.7" x2="502.6" y2="505.6" stroke-width="0.7" stroke-dasharray="3 1 1 1"/>
<line x1="566.2" y1="483.7" x2="566.2" y2="505.6" stroke-width="0.7" stroke-dasharray="3 1 1 1"/>
<line x1="506.3" y1="504.4" x2="562.5" y2="504.4" stroke-width="1" stroke="#5a5a5a"/>
<path d="M504.8 504.4 L508.2 503.45 L508.2 505.35 Z" fill="#505050" stroke="none"/>
<path d="M564 504.4 L560.6 503.45 L560.6 505.35 Z" fill="#505050" stroke="none"/>
<line x1="479.3" y1="515.9" x2="589.7" y2="515.9" stroke-width="1" stroke="#5a5a5a"/>
<path d="M477.8 515.9 L481.2 514.95 L481.2 516.85 Z" fill="#505050" stroke="none"/>
<path d="M591.2 515.9 L587.8 514.95 L587.8 516.85 Z" fill="#505050" stroke="none"/>
<text x="534" y="503.6" font-size="8.8" text-anchor="middle">D</text>
<text x="534" y="514.6" font-size="8.6" text-anchor="middle">W</text>
</g>
</svg>
</body></html>
